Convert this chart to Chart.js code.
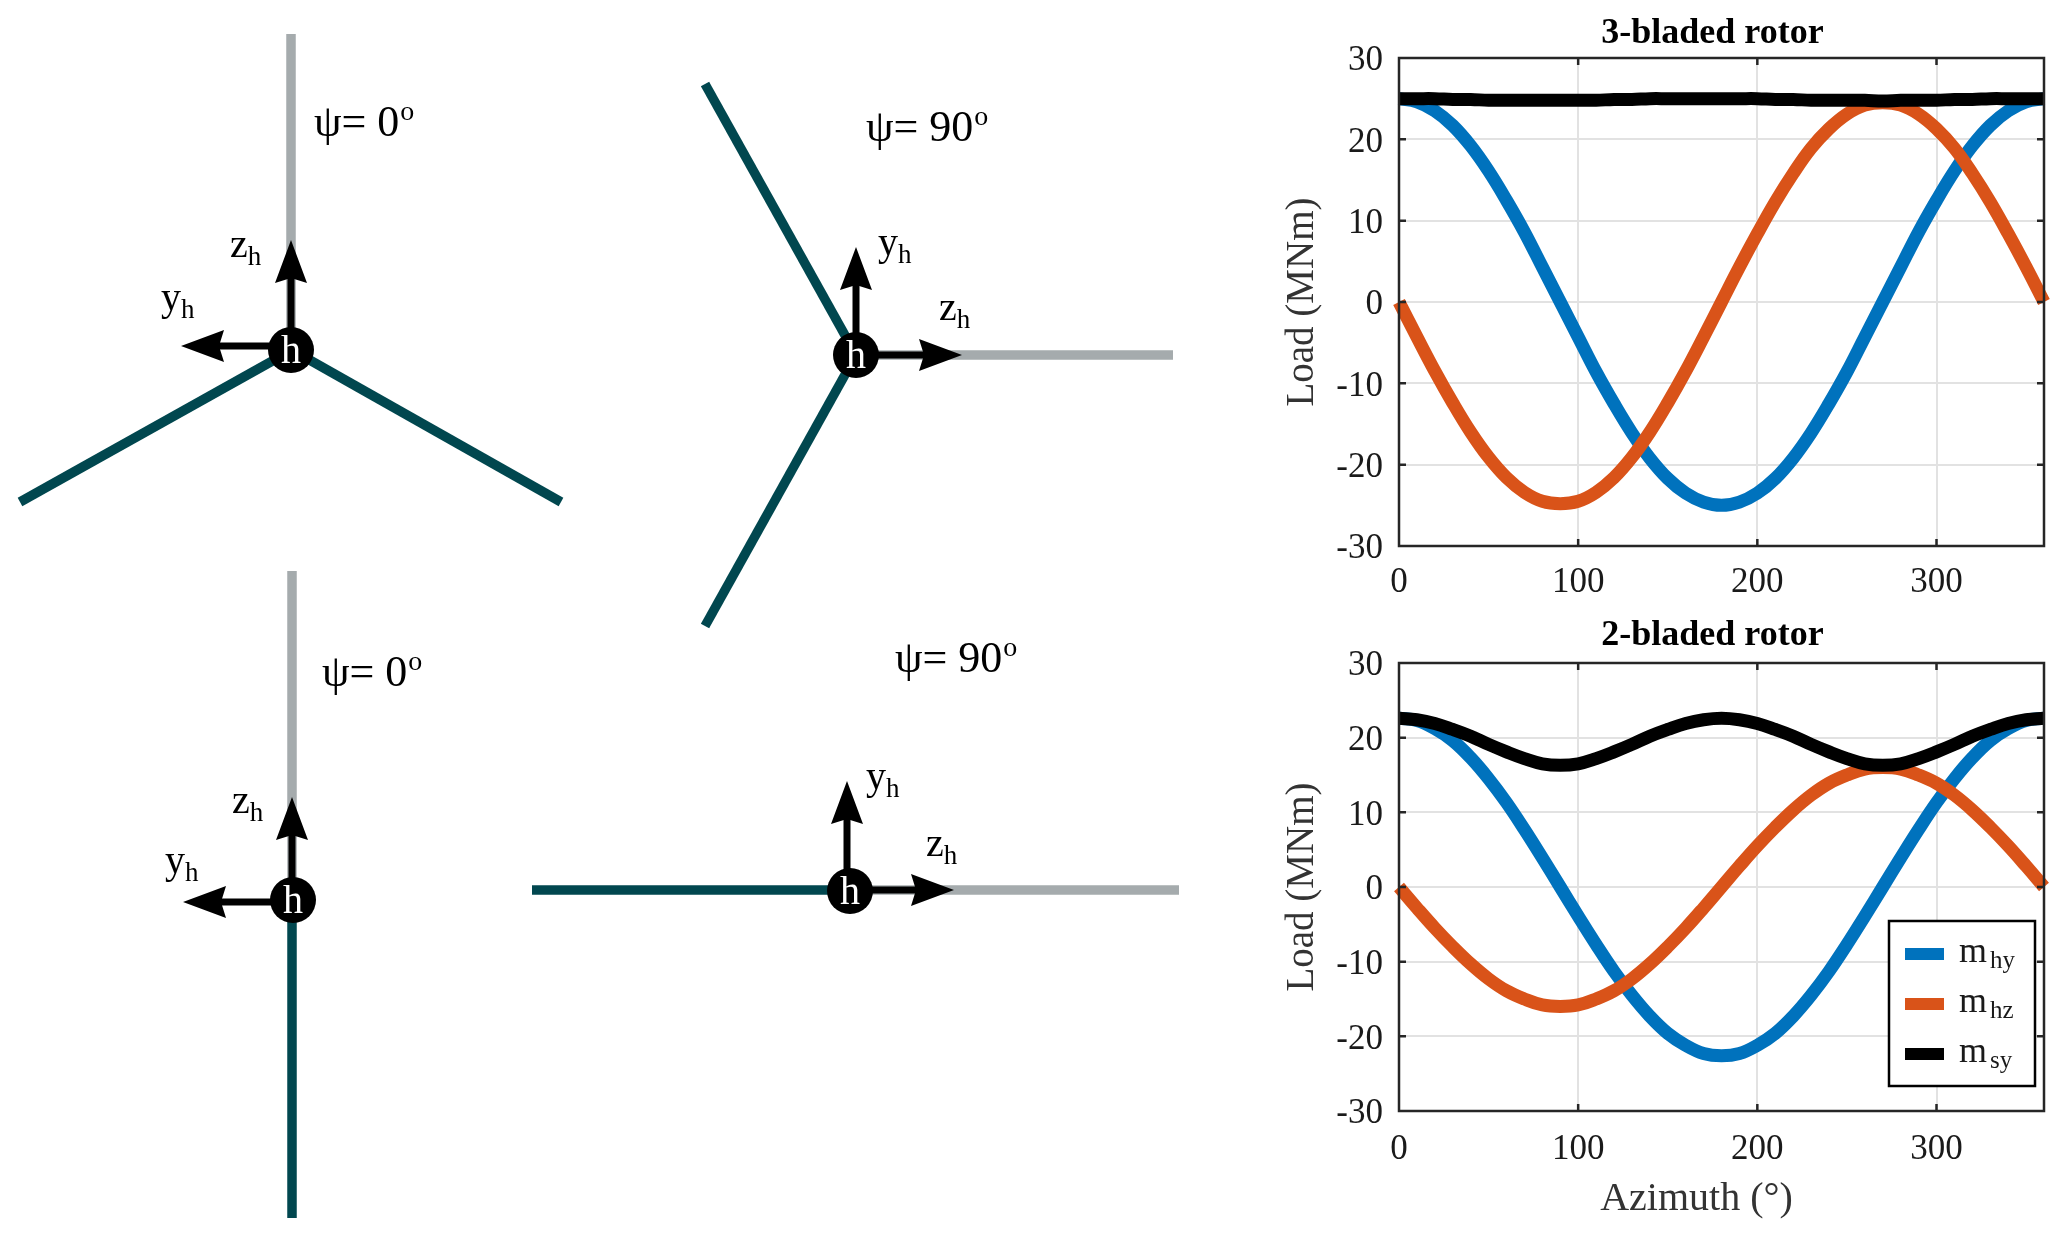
<!DOCTYPE html>
<html><head><meta charset="utf-8">
<script src="https://cdn.jsdelivr.net/npm/chart.js@4"></script>
<style>html,body{margin:0;padding:0;background:#fff;width:2067px;height:1236px;overflow:hidden}canvas{position:absolute;display:block}</style>
</head><body>
<canvas id="sch" width="1270" height="1236" style="left:0;top:0"></canvas>
<canvas id="top" width="797" height="620" style="left:1270px;top:0"></canvas>
<canvas id="bot" width="797" height="626" style="left:1270px;top:610px"></canvas>
<script>
const azimuth=[0,10,20,30,40,50,60,70,80,90,100,110,120,130,140,150,160,170,180,190,200,210,220,230,240,250,260,270,280,290,300,310,320,330,340,350,360];
const xTicks=[0,100,200,300];
const yTicks=[-30,-20,-10,0,10,20,30];

const mhy3=[25,24.6,23.5,21.7,19.2,16.1,12.5,8.6,4.3,0,-4.3,-8.6,-12.5,-16.1,-19.2,-21.7,-23.5,-24.6,-25,-24.6,-23.5,-21.7,-19.2,-16.1,-12.5,-8.6,-4.3,0,4.3,8.6,12.5,16.1,19.2,21.7,23.5,24.6,25];
const mhz3=[0,-4.3,-8.5,-12.4,-16,-19.1,-21.6,-23.4,-24.5,-24.8,-24.5,-23.4,-21.6,-19.1,-16,-12.4,-8.5,-4.3,0,4.3,8.4,12.3,15.8,18.9,21.3,23.1,24.2,24.5,24.2,23.1,21.3,18.9,15.8,12.3,8.4,4.3,0];
const msy3=[25,25,25,24.9,24.9,24.8,24.8,24.8,24.8,24.8,24.8,24.8,24.9,24.9,25,25,25,25,25,25,25,24.9,24.9,24.8,24.8,24.8,24.8,24.7,24.8,24.8,24.8,24.9,24.9,25,25,25,25];

const mhy2=[22.6,22.3,21.2,19.6,17.3,14.5,11.3,7.7,3.9,0,-3.9,-7.7,-11.3,-14.5,-17.3,-19.6,-21.2,-22.3,-22.6,-22.3,-21.2,-19.6,-17.3,-14.5,-11.3,-7.7,-3.9,0,3.9,7.7,11.3,14.5,17.3,19.6,21.2,22.3,22.6];
const mhz2=[0,-2.8,-5.5,-8,-10.3,-12.3,-13.9,-15,-15.8,-16,-15.8,-15,-13.9,-12.3,-10.3,-8,-5.5,-2.8,0,2.8,5.5,8,10.3,12.3,13.9,15,15.8,16,15.8,15,13.9,12.3,10.3,8,5.5,2.8,0];
const msy2=[22.6,22.4,21.9,21.1,20.2,19.1,18.1,17.2,16.5,16.3,16.5,17.2,18.1,19.1,20.2,21.1,21.9,22.4,22.6,22.4,21.9,21.1,20.2,19.1,18.1,17.2,16.5,16.3,16.5,17.2,18.1,19.1,20.2,21.1,21.9,22.4,22.6];

const seriesNames=['mhy','mhz','msy'];
const seriesSubs=['hy','hz','sy'];
const seriesColors=['#0072bd','#d95319','#000000'];

// Rotor sketches: pixel-like data space of the sketch chart
const greyBlades=[[[291,34],[291,350]],[[856,355],[1173,355]],[[292,571],[292,900]],[[850,890],[1179,890]]];
const tealBlades=[[[292,350],[20,502]],[[292,350],[561,502]],[[856,355],[705,84]],[[856,355],[705,626]],[[292,900],[292,1218]],[[850,890],[532,890]]];
const hubs=[[291,350],[856,355],[293,900],[850,891]];
const arrows=[[[291,350],[291,240]],[[291,346],[181,346]],[[856,355],[856,247]],[[856,355],[962,355]],[[292,900],[292,797]],[[293,902],[183,902]],[[847,891],[847,781]],[[850,890],[954,890]]];
const psiLabels=[['0',314,136],['90',866,141],['0',322,686],['90',895,672]];
const axisLabels=[['z',230,257],['y',161,310],['y',878,255],['z',939,320],['z',232,813],['y',165,873],['y',866,789],['z',926,856]];

function segs(list,color,w){return list.map(b=>({data:b.map(p=>({x:p[0],y:p[1]})),borderColor:color,borderWidth:w,pointRadius:0,showLine:true,order:5,borderCapStyle:'butt'}));}

const sketchPlugin={id:'sketch',
  afterDatasetsDraw(c){
    const g=c.ctx,X=c.scales.x,Y=c.scales.y;
    g.save();
    g.fillStyle=g.strokeStyle='#000';
    arrows.forEach(a=>{
      const x0=X.getPixelForValue(a[0][0]),y0=Y.getPixelForValue(a[0][1]);
      const x1=X.getPixelForValue(a[1][0]),y1=Y.getPixelForValue(a[1][1]);
      const L=Math.hypot(x1-x0,y1-y0),ux=(x1-x0)/L,uy=(y1-y0)/L,nx=-uy,ny=ux,hl=43,hw=16;
      g.lineWidth=7;g.beginPath();g.moveTo(x0,y0);g.lineTo(x1-ux*(hl-6),y1-uy*(hl-6));g.stroke();
      g.beginPath();g.moveTo(x1,y1);
      g.lineTo(x1-ux*hl+nx*hw,y1-uy*hl+ny*hw);
      g.lineTo(x1-ux*(hl-5),y1-uy*(hl-5));
      g.lineTo(x1-ux*hl-nx*hw,y1-uy*hl-ny*hw);
      g.closePath();g.fill();
    });
    hubs.forEach(h=>{
      const x=X.getPixelForValue(h[0]),y=Y.getPixelForValue(h[1]);
      g.fillStyle='#000';g.beginPath();g.arc(x,y,23,0,Math.PI*2);g.fill();
      g.fillStyle='#fff';g.font='40px "Liberation Serif"';g.textAlign='center';g.textBaseline='alphabetic';
      g.fillText('h',x,y+13);
    });
    g.fillStyle='#000';g.textAlign='left';g.textBaseline='alphabetic';
    psiLabels.forEach(p=>{
      const x=X.getPixelForValue(p[1]),y=Y.getPixelForValue(p[2]);
      g.font='44px "Liberation Serif"';
      const t='ψ= '+p[0];
      g.fillText(t,x,y);
      const w=g.measureText(t).width;
      g.font='28px "Liberation Serif"';
      g.fillText('o',x+w+1,y-16);
    });
    axisLabels.forEach(p=>{
      const x=X.getPixelForValue(p[1]),y=Y.getPixelForValue(p[2]);
      g.font='40px "Liberation Serif"';
      g.fillText(p[0],x,y);
      const w=g.measureText(p[0]).width;
      g.font='27px "Liberation Serif"';
      g.fillText('h',x+w,y+8);
    });
    g.restore();
  }};

new Chart(document.getElementById('sch'),{type:'scatter',plugins:[sketchPlugin],
  data:{datasets:[...segs(greyBlades,'#a5abad',9.5),...segs(tealBlades,'#01474f',9.5)]},
  options:{responsive:false,animation:false,events:[],layout:{padding:0},
    plugins:{legend:{display:false},tooltip:{enabled:false},title:{display:false}},
    scales:{x:{type:'linear',display:false,min:0,max:1270},y:{type:'linear',display:false,min:0,max:1236,reverse:true}}}});

const framePlugin={id:'frame',
  afterDraw(c,_,o){
    const g=c.ctx,a=c.chartArea,X=c.scales.x,Y=c.scales.y,t=7;
    g.save();g.strokeStyle='#262626';g.lineWidth=2.5;
    g.beginPath();g.rect(a.left,a.top,a.right-a.left,a.bottom-a.top);
    xTicks.forEach(v=>{const p=X.getPixelForValue(v);g.moveTo(p,a.top);g.lineTo(p,a.top+t);g.moveTo(p,a.bottom);g.lineTo(p,a.bottom-t);});
    yTicks.forEach(v=>{const p=Y.getPixelForValue(v);g.moveTo(a.left,p);g.lineTo(a.left+t,p);g.moveTo(a.right,p);g.lineTo(a.right-t,p);});
    g.stroke();
    if(o.showLegend){
      const bx=1889-1270,by=921-610,bw=146,bh=165;
      g.fillStyle='#fff';g.fillRect(bx,by,bw,bh);
      g.strokeStyle='#000';g.lineWidth=2.5;g.strokeRect(bx,by,bw,bh);
      seriesSubs.forEach((s,i)=>{
        const y=by+33+i*50;
        g.fillStyle=seriesColors[i];g.fillRect(bx+16,y-6,39,12);
        g.fillStyle='#1a1a1a';g.textAlign='left';g.textBaseline='alphabetic';
        g.font='36px "Liberation Serif"';g.fillText('m',bx+70,y+8);
        const w=g.measureText('m').width;
        g.font='25px "Liberation Serif"';g.fillText(s,bx+73+w,y+14);
      });
    }
    g.restore();
  }};

function plot(id,title,vals,o){
  return new Chart(document.getElementById(id),{type:'line',plugins:[framePlugin],
    data:{labels:azimuth,datasets:vals.map((v,i)=>({label:seriesNames[i],data:azimuth.map((x,k)=>({x:x,y:v[k]})),borderColor:seriesColors[i],backgroundColor:seriesColors[i],borderWidth:13,pointRadius:0,fill:false,clip:false,tension:0.4,borderCapStyle:'butt',borderJoinStyle:'round',order:3-i}))},
    options:{responsive:false,animation:false,events:[],layout:{padding:{left:0,right:23,top:0,bottom:0}},
      plugins:{legend:{display:false},tooltip:{enabled:false},
        frame:{showLegend:o.legend},
        title:{display:true,text:title+'  ',fullSize:false,color:'#000',font:{family:'Liberation Serif',size:36,weight:'bold',lineHeight:1},padding:{top:o.tTop,bottom:o.tBot}}},
      scales:{
        x:{type:'linear',min:0,max:360,
          afterFit(s){s.height=o.xH;},
          grid:{color:'#e2e2e2',lineWidth:2,drawTicks:false},border:{display:false},
          ticks:{stepSize:100,includeBounds:false,autoSkip:false,maxRotation:0,padding:o.xPad,color:'#1a1a1a',font:{family:'Liberation Serif',size:35}},
          title:o.xTitle?{display:true,text:o.xTitle+'     ',color:'#333333',font:{family:'Liberation Serif',size:40,lineHeight:1.2},padding:{top:0,bottom:13}}:{display:false}},
        y:{type:'linear',min:-30,max:30,
          afterFit(s){s.width=129;},
          grid:{color:'#e2e2e2',lineWidth:2,drawTicks:false},border:{display:false},
          ticks:{stepSize:10,padding:16,labelOffset:3,color:'#1a1a1a',font:{family:'Liberation Serif',size:35}},
          title:{display:true,text:'Load (MNm)',color:'#333333',font:{family:'Liberation Serif',size:39,lineHeight:1.2},padding:{top:9,bottom:0}}}
      }}});
}
plot('top','3-bladed rotor',[mhy3,mhz3,msy3],{legend:false,tTop:16,tBot:6,xH:74,xPad:16,xTitle:''});
plot('bot','2-bladed rotor',[mhy2,mhz2,msy2],{legend:true,tTop:8,tBot:9,xH:125,xPad:18,xTitle:'Azimuth (°)'});
</script>
</body></html>
